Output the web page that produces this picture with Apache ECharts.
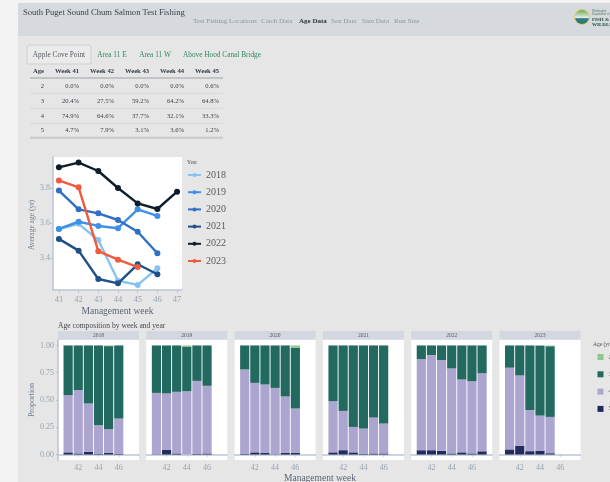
<!DOCTYPE html>
<html><head><meta charset="utf-8">
<script src="https://cdn.jsdelivr.net/npm/echarts@6/dist/echarts.min.js"></script>
<style>html,body{margin:0;padding:0;background:#f3f3f3;overflow:hidden}#c{width:610px;height:482px;}</style>
</head><body><div id="c"></div>
<script>
// ---------- DATA ----------
const weeks = [41, 42, 43, 44, 45, 46, 47];
const facetWeeks = ['40', '41', '42', '43', '44', '45', '46', '47', '48'];
const facetTickWeeks = ['42', '44', '46'];
const years = ['2018', '2019', '2020', '2021', '2022', '2023'];

// Average age (yr) by management week, per year
const avg2018 = [3.565, 3.595, 3.503, 3.270, 3.246, 3.341, null];
const avg2019 = [3.566, 3.607, 3.583, 3.570, 3.678, 3.640, null];
const avg2020 = [3.785, 3.678, 3.655, 3.617, 3.550, 3.427, null];
const avg2021 = [3.509, 3.442, 3.280, 3.255, 3.364, 3.307, null];
const avg2022 = [3.918, 3.945, 3.897, 3.800, 3.712, 3.680, 3.779];
const avg2023 = [3.843, 3.804, 3.439, 3.390, 3.348, null, null];

// Age composition (proportions) by week 41..47, per year
const age5_2018 = [0.020, 0.010, 0.025, 0.005, 0.015, 0.005, null];
const age4_2018 = [0.524, 0.580, 0.443, 0.264, 0.217, 0.325, null];
const age3_2018 = [0.456, 0.410, 0.532, 0.731, 0.762, 0.670, null];
const age2_2018 = [0, 0, 0, 0, 0.006, 0, null];

const age5_2019 = [0.003, 0.045, 0.010, 0.000, 0.005, 0.010, null];
const age4_2019 = [0.562, 0.515, 0.565, 0.580, 0.670, 0.620, null];
const age3_2019 = [0.435, 0.440, 0.425, 0.410, 0.325, 0.370, null];
const age2_2019 = [0, 0, 0, 0.010, 0, 0, null];

const age5_2020 = [0.005, 0.020, 0.015, 0.003, 0.015, 0.015, null];
const age4_2020 = [0.775, 0.637, 0.627, 0.608, 0.517, 0.407, null];
const age3_2020 = [0.220, 0.343, 0.358, 0.389, 0.468, 0.558, null];
const age2_2020 = [0, 0, 0, 0, 0, 0.020, null];

const age5_2021 = [0.020, 0.040, 0.020, 0.008, 0.010, 0.010, null];
const age4_2021 = [0.469, 0.360, 0.233, 0.230, 0.329, 0.274, null];
const age3_2021 = [0.511, 0.600, 0.747, 0.762, 0.661, 0.716, null];
const age2_2021 = [0, 0, 0, 0, 0, 0, null];

const age5_2022 = [0.040, 0.040, 0.035, 0.010, 0.020, 0.010, 0.030];
const age4_2022 = [0.834, 0.871, 0.830, 0.779, 0.668, 0.662, 0.715];
const age3_2022 = [0.126, 0.089, 0.135, 0.211, 0.312, 0.328, 0.255];
const age2_2022 = [0, 0, 0, 0, 0, 0, 0];

const age5_2023 = [0.047, 0.079, 0.031, 0.036, 0.012, null, null];
const age4_2023 = [0.749, 0.646, 0.377, 0.321, 0.333, null, null];
const age3_2023 = [0.204, 0.275, 0.592, 0.642, 0.648, null, null];
const age2_2023 = [0, 0, 0, 0, 0.006, null, null];

// Table (Apple Cove Point)
const tableHeader = ['Age', 'Week 41', 'Week 42', 'Week 43', 'Week 44', 'Week 45'];
const tableAges = [2, 3, 4, 5];
const tableAge2 = [0.0, 0.0, 0.0, 0.0, 0.6];
const tableAge3 = [20.4, 27.5, 59.2, 64.2, 64.8];
const tableAge4 = [74.9, 64.6, 37.7, 32.1, 33.3];
const tableAge5 = [4.7, 7.9, 3.1, 3.6, 1.2];

const navItems = ['Test Fishing Locations', 'Catch Data', 'Age Data', 'Sex Data', 'Size Data', 'Run Size'];
const tabItems = ['Apple Cove Point', 'Area 11 E', 'Area 11 W', 'Above Hood Canal Bridge'];
const ageNames = ['2', '3', '4', '5'];

// ---------- STYLE ----------
const SERIF = '"Liberation Serif", "DejaVu Serif", serif';
const lineColors = ['#86c3f0', '#3d8fe8', '#2f6fc4', '#1f4f87', '#0e1c2c', '#ef5b3c'];
const ageColors = { '2': '#8cc98a', '3': '#22695f', '4': '#aca5cf', '5': '#232b5e' };
const axisCol = '#b9c5d3';
const tickLabCol = '#97a3b0';

const avgSeries = [avg2018, avg2019, avg2020, avg2021, avg2022, avg2023];
const comp = [
  { '2': age2_2018, '3': age3_2018, '4': age4_2018, '5': age5_2018 },
  { '2': age2_2019, '3': age3_2019, '4': age4_2019, '5': age5_2019 },
  { '2': age2_2020, '3': age3_2020, '4': age4_2020, '5': age5_2020 },
  { '2': age2_2021, '3': age3_2021, '4': age4_2021, '5': age5_2021 },
  { '2': age2_2022, '3': age3_2022, '4': age4_2022, '5': age5_2022 },
  { '2': age2_2023, '3': age3_2023, '4': age4_2023, '5': age5_2023 }
];
const tableRows = [tableAge2, tableAge3, tableAge4, tableAge5];

const chart = echarts.init(document.getElementById('c'), null, { renderer: 'canvas' });

// ---------- GRIDS / AXES ----------
const grids = [{ left: 53, top: 157, width: 129, height: 133, show: true, backgroundColor: '#ffffff', borderWidth: 0 }];
const xAxes = [{
  gridIndex: 0, type: 'value', min: 40.7, max: 47.25,
  axisLine: { lineStyle: { color: axisCol, width: 1.5 } },
  axisTick: { length: 3, lineStyle: { color: axisCol }, customValues: weeks },
  axisLabel: { customValues: weeks, color: tickLabCol, fontFamily: SERIF, fontSize: 8.5, margin: 5 },
  splitLine: { show: false },
  name: 'Management week', nameLocation: 'middle', nameGap: 16,
  nameTextStyle: { fontFamily: SERIF, fontSize: 9.5, color: '#5b6577' }
}];
const yAxes = [{
  gridIndex: 0, type: 'value', min: 3.217, max: 3.977,
  axisLine: { show: true, lineStyle: { color: axisCol, width: 1.5 } },
  axisTick: { show: true, length: 3, lineStyle: { color: axisCol }, customValues: [3.4, 3.6, 3.8] },
  axisLabel: { customValues: [3.4, 3.6, 3.8], formatter: v => v.toFixed(1), color: tickLabCol, fontFamily: SERIF, fontSize: 8, margin: 3 },
  splitLine: { show: false }
}];

const facetLeft0 = 58, facetPitch = 88.3, facetW = 81, facetTop = 340, facetH = 120;
const showTick = (idx, val) => facetTickWeeks.indexOf(String(val)) >= 0;
years.forEach((y, i) => {
  grids.push({ left: facetLeft0 + i * facetPitch, top: facetTop, width: facetW, height: facetH, show: true, backgroundColor: '#ffffff', borderWidth: 0 });
  xAxes.push({
    gridIndex: i + 1, type: 'category', data: facetWeeks, boundaryGap: false,
    axisLine: { lineStyle: { color: axisCol, width: 1.5 } },
    axisTick: { length: 2, lineStyle: { color: axisCol }, interval: showTick },
    axisLabel: { interval: showTick, color: tickLabCol, fontFamily: SERIF, fontSize: 8, margin: 4 },
    splitLine: { show: false }
  });
  yAxes.push({
    gridIndex: i + 1, type: 'value', min: -0.05, max: 1.05, show: i === 0,
    axisLine: { show: true, lineStyle: { color: axisCol, width: 1.5 } },
    axisTick: { show: true, length: 2, lineStyle: { color: axisCol }, customValues: [0, 0.25, 0.5, 0.75, 1] },
    axisLabel: { customValues: [0, 0.25, 0.5, 0.75, 1], formatter: v => v.toFixed(2), color: tickLabCol, fontFamily: SERIF, fontSize: 8, margin: 4 },
    splitLine: { show: false },
    name: i === 0 ? 'Proportion' : '', nameLocation: 'middle', nameGap: 21, nameRotate: 90,
    nameTextStyle: { fontFamily: SERIF, fontSize: 8, color: '#6f7d8f' }
  });
});

// ---------- SERIES ----------
const series = [];
years.forEach((y, i) => {
  series.push({
    name: y, type: 'line', xAxisIndex: 0, yAxisIndex: 0,
    data: weeks.map((w, k) => [w, avgSeries[i][k]]).filter(d => d[1] !== null),
    symbol: 'circle', symbolSize: 6, color: lineColors[i],
    lineStyle: { width: 2.4, color: lineColors[i] }, itemStyle: { color: lineColors[i] },
    z: 2 + i
  });
});
years.forEach((y, i) => {
  ['5', '4', '3', '2'].forEach(a => {
    const vals = comp[i][a];
    series.push({
      name: a, type: 'bar', xAxisIndex: i + 1, yAxisIndex: i + 1, stack: 'yr' + y,
      barWidth: 9.2, color: ageColors[a], itemStyle: { color: ageColors[a] },
      data: facetWeeks.map(w => {
        const k = weeks.indexOf(Number(w));
        return (k < 0 || vals[k] === null) ? '-' : vals[k];
      })
    });
  });
});

// ---------- PAGE CHROME (graphic) ----------
const g = [];
g.push({ type: 'rect', shape: { x: 18, y: 3, width: 592, height: 33 }, style: { fill: '#d6dadf' }, z: -10 });
g.push({ type: 'rect', shape: { x: 18, y: 36, width: 592, height: 446 }, style: { fill: '#e6e6e6' }, z: -10 });
g.push({ type: 'text', x: 23, y: 13, style: { text: 'South Puget Sound Chum Salmon Test Fishing', font: '8.6px ' + SERIF, fill: '#3c4248', verticalAlign: 'middle' } });
const navX = [193, 261, 299, 331, 362, 394];
navItems.forEach((t, i) => {
  g.push({ type: 'text', x: navX[i], y: 21, style: { text: t, font: (t === 'Age Data' ? 'bold ' : '') + '7px ' + SERIF, fill: t === 'Age Data' ? '#2d3338' : '#8e959c', verticalAlign: 'middle' } });
});
// logo
g.push({ type: 'circle', shape: { cx: 582, cy: 17, r: 7.5 }, style: { fill: new echarts.graphic.LinearGradient(0, 0, 0, 1, [{ offset: 0, color: '#5aa050' }, { offset: 0.55, color: '#e8f0e0' }, { offset: 0.6, color: '#2f7d9a' }, { offset: 1, color: '#2e7a4a' }]), stroke: '#e3cf78', lineWidth: 1 } });
g.push({ type: 'text', x: 592, y: 11, style: { text: 'Washington', font: '3px ' + SERIF, fill: '#4a7a5a', verticalAlign: 'middle' } });
g.push({ type: 'text', x: 592, y: 14.5, style: { text: 'Department of', font: '3px ' + SERIF, fill: '#4a7a5a', verticalAlign: 'middle' } });
g.push({ type: 'text', x: 592, y: 19.5, style: { text: 'FISH &', font: 'bold 5px ' + SERIF, fill: '#1d4f3a', verticalAlign: 'middle' } });
g.push({ type: 'text', x: 592, y: 24.5, style: { text: 'WILDLIFE', font: 'bold 5px ' + SERIF, fill: '#1d4f3a', verticalAlign: 'middle' } });
// tabs
g.push({ type: 'rect', shape: { x: 27, y: 45, width: 64, height: 19, r: [3, 3, 0, 0] }, style: { fill: '#ebebeb', stroke: '#cfcfcf', lineWidth: 1 } });
const tabX = [59, 112, 155, 222];
tabItems.forEach((t, i) => {
  g.push({ type: 'text', x: tabX[i], y: 55, style: { text: t, font: '7.3px ' + SERIF, fill: i === 0 ? '#555b62' : '#2f8a5f', align: 'center', verticalAlign: 'middle' } });
});
// table
const colRight = [44, 79, 114, 149, 184, 219];
tableHeader.forEach((t, j) => {
  g.push({ type: 'text', x: colRight[j], y: 71, style: { text: t, font: 'bold 6.6px ' + SERIF, fill: '#333b47', align: 'right', verticalAlign: 'middle' } });
});
g.push({ type: 'line', shape: { x1: 30, y1: 78, x2: 223, y2: 78 }, style: { stroke: '#9aa0a8', lineWidth: 1 } });
const rowY = [86, 100.8, 115.8, 130.4];
tableAges.forEach((a, r) => {
  g.push({ type: 'text', x: colRight[0], y: rowY[r], style: { text: String(a), font: '6.6px ' + SERIF, fill: '#3a3f47', align: 'right', verticalAlign: 'middle' } });
  tableRows[r].forEach((v, j) => {
    g.push({ type: 'text', x: colRight[j + 1], y: rowY[r], style: { text: v.toFixed(1) + '%', font: '6.6px ' + SERIF, fill: '#3a3f47', align: 'right', verticalAlign: 'middle' } });
  });
});
[93.3, 108.3, 123.3].forEach(yy => g.push({ type: 'line', shape: { x1: 30, y1: yy, x2: 223, y2: yy }, style: { stroke: '#d3d7dc', lineWidth: 0.8 } }));
g.push({ type: 'line', shape: { x1: 30, y1: 137.8, x2: 223, y2: 137.8 }, style: { stroke: '#c7cacd', lineWidth: 2 } });
// line chart y title + legend title
g.push({ type: 'text', x: 32, y: 225, rotation: Math.PI / 2, style: { text: 'Average age (yr)', font: '7.5px ' + SERIF, fill: '#6f7d8f', align: 'center', verticalAlign: 'middle' } });
g.push({ type: 'text', x: 187, y: 163, style: { text: 'Year', font: '5.5px ' + SERIF, fill: '#555', verticalAlign: 'middle' } });
// facet title, strips
g.push({ type: 'text', x: 58, y: 326, style: { text: 'Age composition by week and year', font: '7.6px ' + SERIF, fill: '#444a52', verticalAlign: 'middle' } });
years.forEach((y, i) => {
  const x = facetLeft0 + i * facetPitch;
  g.push({ type: 'rect', shape: { x: x, y: 331, width: facetW, height: 8.5 }, style: { fill: '#d3d7df' } });
  g.push({ type: 'text', x: x + facetW / 2, y: 335.5, style: { text: y, font: '5.5px ' + SERIF, fill: '#555b62', align: 'center', verticalAlign: 'middle' } });
});
g.push({ type: 'text', x: 320, y: 478, style: { text: 'Management week', font: '9.5px ' + SERIF, fill: '#5b6577', align: 'center', verticalAlign: 'middle' } });
g.push({ type: 'text', x: 593, y: 345, style: { text: 'Age (yr)', font: '5.5px ' + SERIF, fill: '#555', verticalAlign: 'middle' } });

chart.setOption({
  animation: false,
  backgroundColor: 'transparent',
  grid: grids, xAxis: xAxes, yAxis: yAxes, series: series,
  legend: [
    { data: years, orient: 'vertical', left: 187, top: 169, padding: 0, itemWidth: 13, itemHeight: 5, itemGap: 5.2,
      textStyle: { fontFamily: SERIF, fontSize: 10, color: '#5a5a5a', lineHeight: 12 }, selectedMode: false },
    { data: ageNames, orient: 'vertical', left: 597.5, top: 354, padding: 0, itemWidth: 6, itemHeight: 6, itemGap: 11.3, icon: 'rect',
      textStyle: { fontFamily: SERIF, fontSize: 6, color: '#555', lineHeight: 6 }, selectedMode: false }
  ],
  graphic: g
});
</script></body></html>
